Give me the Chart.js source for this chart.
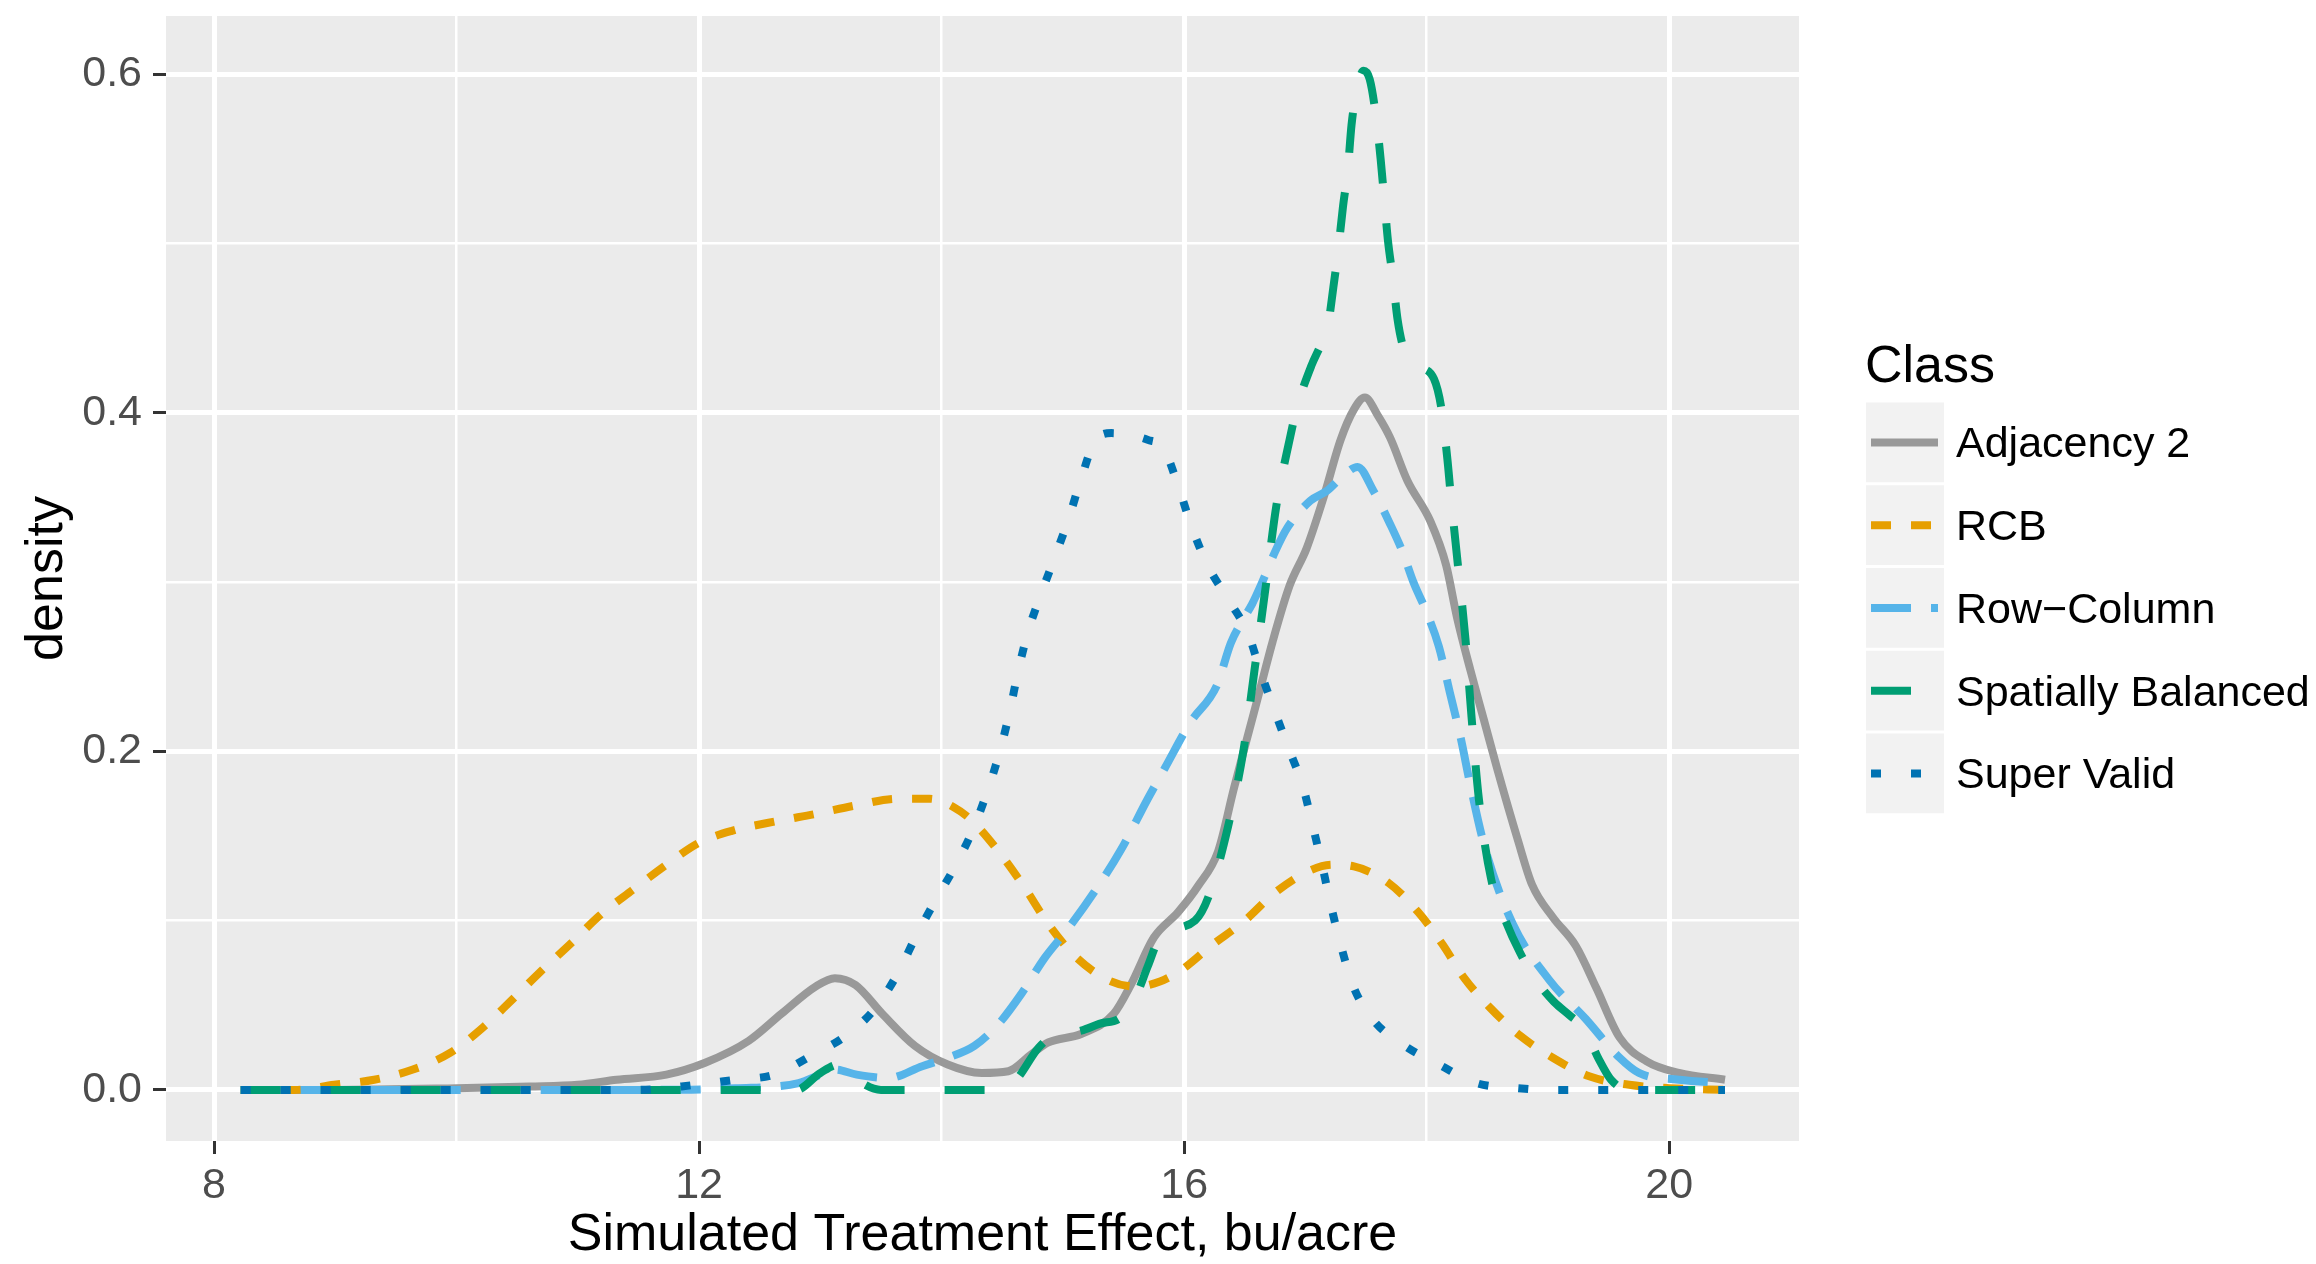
<!DOCTYPE html>
<html>
<head>
<meta charset="utf-8">
<title>Simulated Treatment Effect density</title>
<script src="https://cdn.jsdelivr.net/npm/chart.js@4.4.1/dist/chart.umd.min.js"></script>
<style>
  html, body { margin: 0; padding: 0; background: #ffffff; }
  canvas { display: block; }
</style>
</head>
<body>
<canvas id="densityChart" width="2316" height="1264"></canvas>
<script>
"use strict";

// ---- data: [treatment effect, density] for each class ----
const adjacency2 = [
  [8.22, 0], [9.0, 0], [10.0, 0.001], [10.6, 0.002], [11.0, 0.003], [11.32, 0.006],
  [11.73, 0.009], [12.05, 0.016], [12.41, 0.029], [12.68, 0.045], [12.96, 0.061],
  [13.12, 0.066], [13.29, 0.062], [13.51, 0.045], [13.78, 0.026], [14.05, 0.015],
  [14.33, 0.010], [14.55, 0.011], [14.74, 0.021], [14.88, 0.028], [15.15, 0.033],
  [15.42, 0.045], [15.56, 0.062], [15.75, 0.090], [15.95, 0.105], [16.12, 0.121],
  [16.28, 0.141], [16.41, 0.178], [16.52, 0.208], [16.62, 0.235], [16.73, 0.265],
  [16.87, 0.298], [17.01, 0.32], [17.15, 0.35], [17.29, 0.384], [17.4, 0.402],
  [17.49, 0.409], [17.6, 0.398], [17.7, 0.385], [17.84, 0.36], [18.03, 0.336],
  [18.16, 0.31], [18.25, 0.279], [18.36, 0.248], [18.47, 0.219], [18.58, 0.19],
  [18.75, 0.148], [18.87, 0.121], [19.04, 0.102], [19.23, 0.085], [19.4, 0.06],
  [19.59, 0.031], [19.81, 0.017], [20.08, 0.01], [20.46, 0.006]
];

const rcb = [
  [8.22, 0], [8.66, 0], [8.99, 0.003], [9.32, 0.006], [9.64, 0.012], [9.95, 0.022],
  [10.22, 0.037], [10.44, 0.052], [10.68, 0.069], [10.95, 0.087], [11.18, 0.103],
  [11.45, 0.118], [11.73, 0.133], [12.0, 0.146], [12.27, 0.153], [12.66, 0.159],
  [12.96, 0.163], [13.29, 0.168], [13.64, 0.172], [13.9, 0.172], [14.1, 0.167],
  [14.25, 0.159], [14.49, 0.139], [14.68, 0.12], [14.88, 0.098], [15.1, 0.079],
  [15.37, 0.065], [15.6, 0.061], [15.8, 0.064], [15.98, 0.071], [16.22, 0.085],
  [16.5, 0.1], [16.74, 0.116], [17.02, 0.129], [17.22, 0.133], [17.4, 0.132],
  [17.69, 0.122], [17.93, 0.105], [18.13, 0.086], [18.31, 0.066], [18.53, 0.048],
  [18.77, 0.032], [19.04, 0.019], [19.34, 0.008], [19.67, 0.003], [20.0, 0.001],
  [20.46, 0]
];

const rowColumn = [
  [8.22, 0], [11.5, 0], [12.3, 0.001], [12.82, 0.004], [13.0, 0.009], [13.12, 0.012],
  [13.3, 0.009], [13.56, 0.007], [13.84, 0.014], [14.05, 0.019], [14.27, 0.026],
  [14.47, 0.039], [14.66, 0.057], [14.85, 0.078], [15.04, 0.095], [15.26, 0.117],
  [15.48, 0.142], [15.7, 0.172], [15.84, 0.19], [16.05, 0.217], [16.27, 0.239],
  [16.385, 0.264], [16.495, 0.279], [16.56, 0.287], [16.65, 0.301], [16.75, 0.318],
  [16.85, 0.332], [17.04, 0.348], [17.18, 0.354], [17.3, 0.362], [17.43, 0.368],
  [17.56, 0.354], [17.7, 0.334], [17.8, 0.318], [17.89, 0.3], [18.0, 0.282],
  [18.1, 0.262], [18.19, 0.235], [18.28, 0.208], [18.36, 0.18], [18.48, 0.143],
  [18.71, 0.098], [19.01, 0.065], [19.31, 0.042], [19.59, 0.019], [19.75, 0.01],
  [20.08, 0.006], [20.46, 0.004]
];

const spatiallyBalanced = [
  [8.22, 0], [12.8, 0], [13.0, 0.01], [13.15, 0.015], [13.3, 0.006], [13.5, 0],
  [14.4, 0], [14.6, 0.005], [14.8, 0.025], [14.92, 0.032], [15.15, 0.035],
  [15.3, 0.039], [15.48, 0.043], [15.6, 0.055], [15.7, 0.073], [15.8, 0.09],
  [16.09, 0.1], [16.2, 0.114], [16.36, 0.155], [16.49, 0.201], [16.58, 0.248],
  [16.67, 0.296], [16.76, 0.345], [16.86, 0.381], [16.93, 0.403], [17.05, 0.428],
  [17.12, 0.439], [17.18, 0.449], [17.23, 0.474], [17.27, 0.496], [17.31, 0.522],
  [17.35, 0.544], [17.38, 0.57], [17.43, 0.593], [17.48, 0.602], [17.53, 0.597],
  [17.58, 0.576], [17.62, 0.55], [17.65, 0.526], [17.68, 0.502], [17.72, 0.48],
  [17.76, 0.455], [17.81, 0.438], [17.92, 0.428], [18.06, 0.42], [18.12, 0.403],
  [18.17, 0.373], [18.2, 0.35], [18.25, 0.315], [18.32, 0.266], [18.37, 0.22],
  [18.43, 0.172], [18.53, 0.125], [18.65, 0.1], [18.77, 0.081], [18.9, 0.065],
  [19.05, 0.052], [19.18, 0.044], [19.3, 0.036], [19.42, 0.018], [19.52, 0.006],
  [19.67, 0], [20.46, 0]
];

const superValid = [
  [8.22, 0], [11.5, 0], [11.97, 0.003], [12.3, 0.006], [12.62, 0.009], [12.92, 0.02],
  [13.21, 0.032], [13.45, 0.048], [13.64, 0.069], [13.79, 0.091], [13.95, 0.112],
  [14.11, 0.132], [14.26, 0.154], [14.38, 0.177], [14.48, 0.2], [14.56, 0.223],
  [14.63, 0.247], [14.71, 0.27], [14.82, 0.293], [14.94, 0.316], [15.05, 0.338],
  [15.15, 0.361], [15.27, 0.384], [15.4, 0.388], [15.54, 0.387], [15.7, 0.384],
  [15.83, 0.379], [15.95, 0.357], [16.06, 0.333], [16.2, 0.309], [16.38, 0.288],
  [16.53, 0.269], [16.63, 0.247], [16.74, 0.225], [16.86, 0.202], [16.98, 0.179],
  [17.06, 0.156], [17.14, 0.132], [17.21, 0.109], [17.29, 0.086], [17.39, 0.062],
  [17.55, 0.042], [17.82, 0.026], [18.1, 0.015], [18.41, 0.004], [18.75, 0.001],
  [19.0, 0], [20.46, 0]
];

const classNames = ["Adjacency 2", "RCB", "Row\u2212Column", "Spatially Balanced", "Super Valid"];
const classSeries = [adjacency2, rcb, rowColumn, spatiallyBalanced, superValid];

const xTicks = [8, 10, 12, 14, 16, 18, 20];
const xTickLabels = ["8", "", "12", "", "16", "", "20"];
const yTicks = [0, 0.1, 0.2, 0.3, 0.4, 0.5, 0.6];
const yTickLabels = ["0.0", "", "0.2", "", "0.4", "", "0.6"];

// ---- look ----
const classColors = ["#999999", "#E69F00", "#56B4E9", "#009E73", "#0072B2"];
const classDashes = [[], [20, 20], [40, 20], [40, 40], [10, 30]];
const curveWidth = 8;
const fontFamily = "'Liberation Sans', Arial, Helvetica, sans-serif";

Chart.defaults.font.family = fontFamily;

// grey panel behind the grid, like ggplot's theme_grey
const panelBackground = {
  id: "panelBackground",
  beforeDraw(chart) {
    const { ctx, chartArea } = chart;
    ctx.save();
    ctx.fillStyle = "#EBEBEB";
    ctx.fillRect(chartArea.left, chartArea.top,
      chartArea.right - chartArea.left, chartArea.bottom - chartArea.top);
    ctx.restore();
  },
};

// legend on the right with title and grey key boxes
const classLegend = {
  id: "classLegend",
  afterDraw(chart) {
    const ctx = chart.ctx;
    const keyLeft = chart.chartArea.right + 67;
    const keySize = 82.75;
    const firstKeyTop = 401;
    ctx.save();
    ctx.fillStyle = "#000000";
    ctx.textBaseline = "alphabetic";
    ctx.font = "52px " + fontFamily;
    ctx.fillText("Class", keyLeft - 1, 382);

    ctx.font = "43px " + fontFamily;
    classNames.forEach((name, i) => {
      const top = firstKeyTop + i * keySize;
      const cy = top + keySize / 2;
      ctx.fillStyle = "#F2F2F2";
      ctx.fillRect(keyLeft, top + 1.5, 78, keySize - 3);

      ctx.beginPath();
      ctx.strokeStyle = classColors[i];
      ctx.lineWidth = curveWidth;
      ctx.lineCap = "butt";
      ctx.setLineDash(classDashes[i]);
      ctx.moveTo(keyLeft + 5, cy);
      ctx.lineTo(keyLeft + 72, cy);
      ctx.stroke();
      ctx.setLineDash([]);

      ctx.fillStyle = "#000000";
      ctx.fillText(name, keyLeft + 90, cy + 15);
    });
    ctx.restore();
  },
};

const majorX = (v) => xTickLabels[xTicks.indexOf(v)] !== "";
const majorY = (v) => yTickLabels[yTicks.findIndex((t) => Math.abs(t - v) < 1e-9)] !== "";

const datasets = classNames.map((name, i) => ({
  label: name,
  data: classSeries[i].map(([x, y]) => ({ x, y })),
  borderColor: classColors[i],
  borderDash: classDashes[i],
  borderWidth: curveWidth,
  borderCapStyle: "butt",
  borderJoinStyle: "round",
  cubicInterpolationMode: "monotone",
  pointRadius: 0,
  fill: false,
  order: classNames.length - i,
}));

const densityChart = new Chart(document.getElementById("densityChart"), {
  type: "line",
  data: { datasets },
  plugins: [panelBackground, classLegend],
  options: {
    responsive: false,
    animation: false,
    events: [],
    devicePixelRatio: 1,
    layout: { padding: { top: 16, right: 517, bottom: 0, left: 0 } },
    plugins: {
      legend: { display: false },
      tooltip: { enabled: false },
    },
    scales: {
      x: {
        type: "linear",
        min: 7.604,
        max: 21.07,
        afterBuildTicks: (scale) => {
          scale.ticks = xTicks.map((v) => ({ value: v }));
        },
        afterFit: (scale) => {
          scale.height = 123;
          scale.paddingLeft = 0;
          scale.paddingRight = 0;
        },
        border: { display: false },
        grid: {
          color: "#FFFFFF",
          lineWidth: (c) => (majorX(c.tick.value) ? 5 : 2.5),
          tickLength: 13,
          tickWidth: 3,
          tickColor: (c) => (majorX(c.tick.value) ? "#333333" : "rgba(0,0,0,0)"),
        },
        ticks: {
          autoSkip: false,
          maxRotation: 0,
          padding: 11,
          color: "#4D4D4D",
          font: { size: 43, lineHeight: 1 },
          callback: (value) => xTickLabels[xTicks.indexOf(value)],
        },
        title: {
          display: true,
          text: "Simulated Treatment Effect, bu/acre",
          color: "#000000",
          font: { size: 52, lineHeight: 1.1 },
          padding: { top: 0, bottom: 0 },
        },
      },
      y: {
        type: "linear",
        min: -0.0302,
        max: 0.6344,
        afterBuildTicks: (scale) => {
          scale.ticks = yTicks.map((v) => ({ value: v }));
        },
        afterFit: (scale) => {
          scale.width = 166;
          scale.paddingTop = 0;
          scale.paddingBottom = 0;
        },
        border: { display: false },
        grid: {
          color: "#FFFFFF",
          lineWidth: (c) => (majorY(c.tick.value) ? 5 : 2.5),
          tickLength: 13,
          tickWidth: 3,
          tickColor: (c) => (majorY(c.tick.value) ? "#333333" : "rgba(0,0,0,0)"),
        },
        ticks: {
          autoSkip: false,
          padding: 11,
          color: "#4D4D4D",
          font: { size: 43 },
          callback: (value, index) => yTickLabels[index],
        },
        title: {
          display: true,
          text: "density",
          color: "#000000",
          font: { size: 52 },
          padding: { top: 16, bottom: 0 },
        },
      },
    },
  },
});
</script>
</body>
</html>
